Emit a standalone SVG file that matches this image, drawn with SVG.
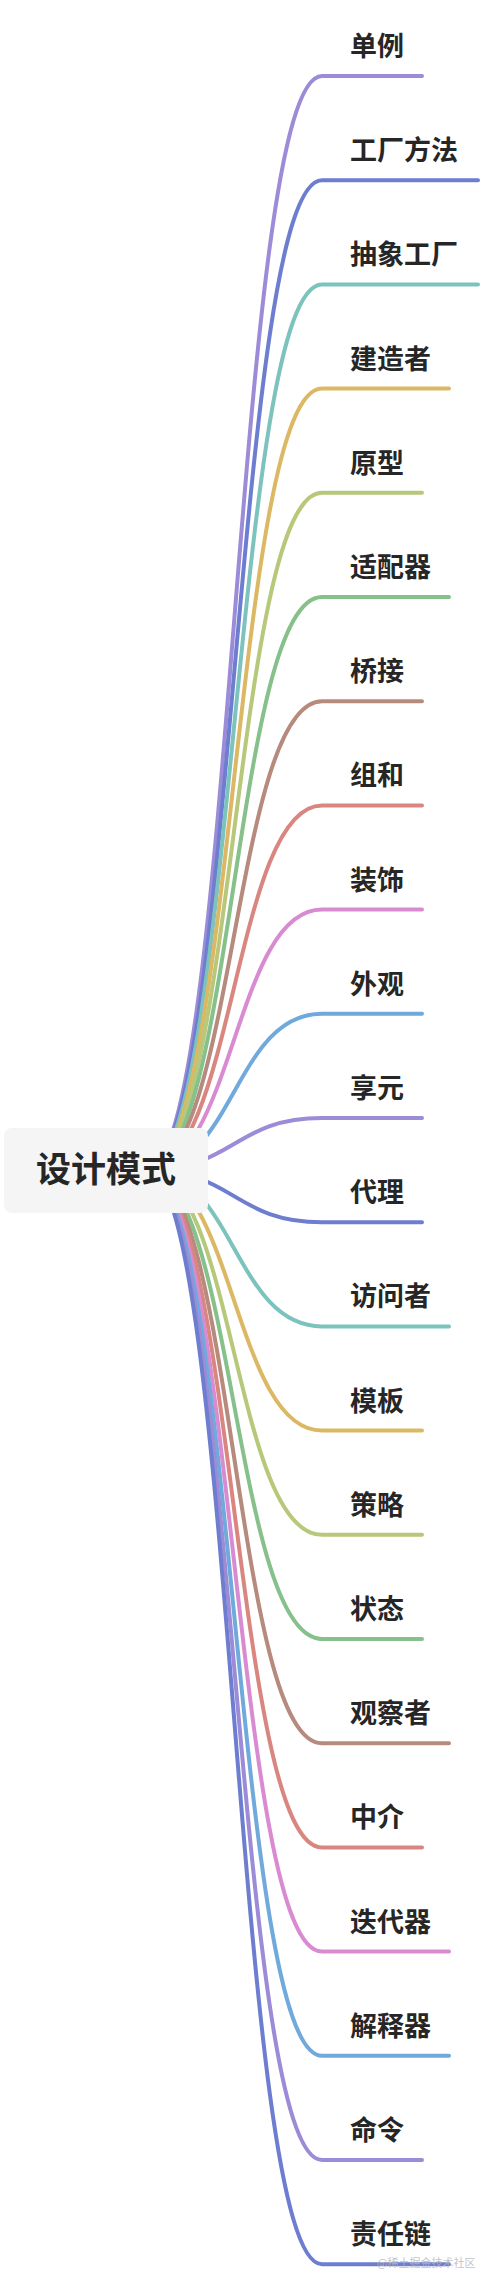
<svg xmlns="http://www.w3.org/2000/svg" width="482" height="2284" viewBox="0 0 482 2284">
<style>
.c{fill:none;stroke-width:4;stroke-linecap:round;stroke-linejoin:round}
.k0{stroke:#9c8bd7}.k1{stroke:#6d7dd0}.k2{stroke:#7dc3bd}.k3{stroke:#dcb864}.k4{stroke:#b7c87a}
.k5{stroke:#86c08b}.k6{stroke:#b68a7c}.k7{stroke:#d98681}.k8{stroke:#d98bd2}.k9{stroke:#70a9db}
.t{font-family:"Noto Sans CJK SC","Noto Sans",sans-serif;font-weight:bold;font-size:27px;fill:#262626}
.root{font-family:"Noto Sans CJK SC","Noto Sans",sans-serif;font-weight:bold;font-size:35px;fill:#262626}
.wm{font-family:"Noto Sans CJK SC","Noto Sans",sans-serif;font-size:11px;fill:#b8b8b8;fill-opacity:0.85}
</style>
<rect width="482" height="2284" fill="#ffffff"/>
<g id="connectors">
<path class="c k0" d="M146,1170 C234,1170 234,76 322,76 H422"/>
<path class="c k1" d="M146,1170 C234,1170 234,180.2 322,180.2 H478"/>
<path class="c k2" d="M146,1170 C234,1170 234,284.4 322,284.4 H478"/>
<path class="c k3" d="M146,1170 C234,1170 234,388.6 322,388.6 H449"/>
<path class="c k4" d="M146,1170 C234,1170 234,492.8 322,492.8 H422"/>
<path class="c k5" d="M146,1170 C234,1170 234,597 322,597 H449"/>
<path class="c k6" d="M146,1170 C234,1170 234,701.2 322,701.2 H422"/>
<path class="c k7" d="M146,1170 C234,1170 234,805.4 322,805.4 H422"/>
<path class="c k8" d="M146,1170 C234,1170 234,909.6 322,909.6 H422"/>
<path class="c k9" d="M146,1170 C234,1170 234,1013.8 322,1013.8 H422"/>
<path class="c k0" d="M146,1170 C234,1170 234,1118 322,1118 H422"/>
<path class="c k1" d="M146,1170 C234,1170 234,1222.2 322,1222.2 H422"/>
<path class="c k2" d="M146,1170 C234,1170 234,1326.4 322,1326.4 H449"/>
<path class="c k3" d="M146,1170 C234,1170 234,1430.6 322,1430.6 H422"/>
<path class="c k4" d="M146,1170 C234,1170 234,1534.8 322,1534.8 H422"/>
<path class="c k5" d="M146,1170 C234,1170 234,1639 322,1639 H422"/>
<path class="c k6" d="M146,1170 C234,1170 234,1743.2 322,1743.2 H449"/>
<path class="c k7" d="M146,1170 C234,1170 234,1847.4 322,1847.4 H422"/>
<path class="c k8" d="M146,1170 C234,1170 234,1951.6 322,1951.6 H449"/>
<path class="c k9" d="M146,1170 C234,1170 234,2055.8 322,2055.8 H449"/>
<path class="c k0" d="M146,1170 C234,1170 234,2160 322,2160 H422"/>
<path class="c k1" d="M146,1170 C234,1170 234,2264.2 322,2264.2 H449"/>
</g>
<g id="root">
<rect x="4" y="1128" width="204" height="85" rx="8" fill="#f5f5f5"/>
<text class="root" x="106" y="1182" text-anchor="middle">设计模式</text>
</g>
<g id="n0"><text class="t" x="350" y="56">单例</text></g>
<g id="n1"><text class="t" x="350" y="160.2">工厂方法</text></g>
<g id="n2"><text class="t" x="350" y="264.4">抽象工厂</text></g>
<g id="n3"><text class="t" x="350" y="368.6">建造者</text></g>
<g id="n4"><text class="t" x="350" y="472.8">原型</text></g>
<g id="n5"><text class="t" x="350" y="577">适配器</text></g>
<g id="n6"><text class="t" x="350" y="681.2">桥接</text></g>
<g id="n7"><text class="t" x="350" y="785.4">组和</text></g>
<g id="n8"><text class="t" x="350" y="889.6">装饰</text></g>
<g id="n9"><text class="t" x="350" y="993.8">外观</text></g>
<g id="n10"><text class="t" x="350" y="1098">享元</text></g>
<g id="n11"><text class="t" x="350" y="1202.2">代理</text></g>
<g id="n12"><text class="t" x="350" y="1306.4">访问者</text></g>
<g id="n13"><text class="t" x="350" y="1410.6">模板</text></g>
<g id="n14"><text class="t" x="350" y="1514.8">策略</text></g>
<g id="n15"><text class="t" x="350" y="1619">状态</text></g>
<g id="n16"><text class="t" x="350" y="1723.2">观察者</text></g>
<g id="n17"><text class="t" x="350" y="1827.4">中介</text></g>
<g id="n18"><text class="t" x="350" y="1931.6">迭代器</text></g>
<g id="n19"><text class="t" x="350" y="2035.8">解释器</text></g>
<g id="n20"><text class="t" x="350" y="2140">命令</text></g>
<g id="n21"><text class="t" x="350" y="2244.2">责任链</text></g>
<text class="wm" x="377" y="2267">@稀土掘金技术社区</text>
</svg>
